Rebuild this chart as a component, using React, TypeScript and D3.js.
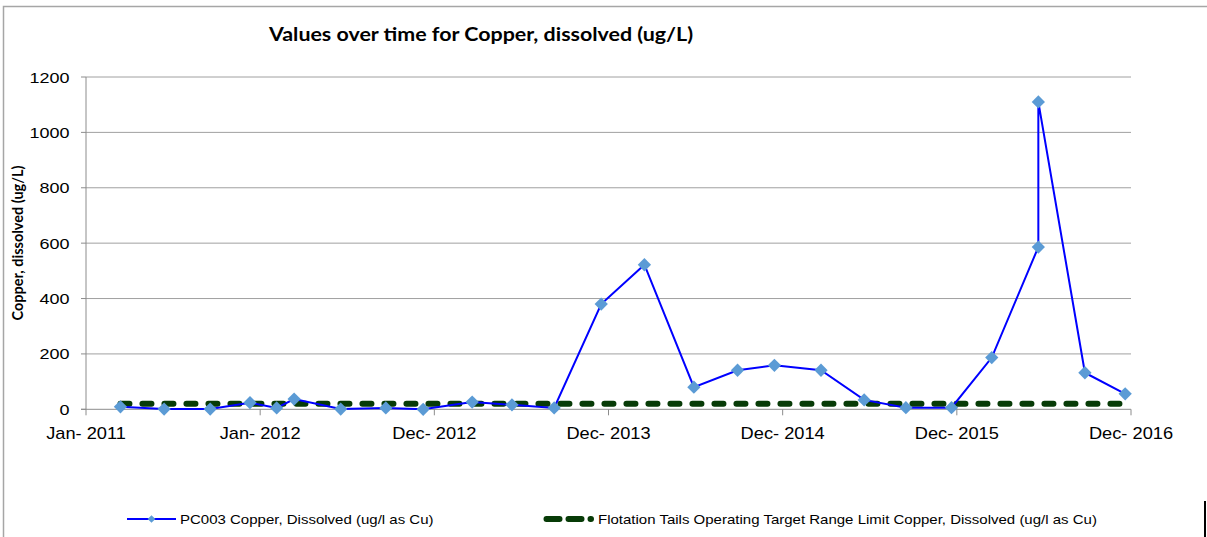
import { useEffect, useRef } from 'react';
import * as d3 from 'd3';

// sampling dates for station PC003
const sampleDates = [
  '2011-03-24', '2011-06-22', '2011-09-25', '2011-12-16', '2012-02-09', '2012-03-16',
  '2012-06-20', '2012-09-21', '2012-12-07', '2013-03-18', '2013-06-08', '2013-09-03',
  '2013-12-09', '2014-03-08', '2014-06-18', '2014-09-16', '2014-12-01', '2015-03-07',
  '2015-06-04', '2015-08-29', '2015-12-01', '2016-02-22', '2016-05-28', '2016-05-28',
  '2016-09-01', '2016-11-23',
];

// dissolved copper, ug/l
const copperValues = [
  9, 1, 1, 24, 5, 37,
  1, 5, 0, 26, 16, 5,
  380, 522, 80, 141, 159, 141,
  34, 6, 6, 187, 586, 1110,
  132, 56,
];

const targetLimit = 20;

// Excel date axis, major unit = 359 days
const xTickDates = ['2011-01-12', '2012-01-06', '2012-12-30', '2013-12-24', '2014-12-18', '2015-12-12', '2016-12-05'];
const yTicks = [0, 200, 400, 600, 800, 1000, 1200];

const titleText = 'Values over time for Copper, dissolved (ug/L)';
const yAxisTitle = 'Copper, dissolved (ug/L)';
const seriesNames = [
  'PC003 Copper, Dissolved (ug/l as Cu)',
  'Flotation Tails Operating Target Range Limit Copper, Dissolved (ug/l as Cu)',
];

const W = 1207;
const H = 537;

export default function App() {
  const svgRef = useRef<SVGSVGElement>(null);

  useEffect(() => {
    if (!svgRef.current) return;
    const svg = d3.select(svgRef.current);
    svg.selectAll('*').remove();

    const parse = d3.timeParse('%Y-%m-%d');
    const fmt = d3.timeFormat('%b- %Y');
    const ticks = xTickDates.map((d) => parse(d) as Date);
    const data = sampleDates.map((d, i) => ({ date: parse(d) as Date, value: copperValues[i] }));

    const margin = { left: 86, right: W - 1131, top: 77, bottom: H - 409.3 };
    const x = d3.scaleTime().domain([ticks[0], ticks[ticks.length - 1]]).range([margin.left, W - margin.right]);
    const y = d3.scaleLinear().domain([0, 1200]).range([H - margin.bottom, margin.top]);

    const sx = 1.14; // the original export is stretched horizontally
    const label = (
      g: d3.Selection<any, any, any, any>,
      text: string,
      px: number,
      py: number,
      opts: { size: number; anchor?: string; weight?: string; family?: string; rotate?: boolean; scale?: number }
    ) =>
      g.append('text')
        .attr('transform', opts.rotate
          ? `translate(${px},${py}) scale(${opts.scale ?? sx},1) rotate(-90)`
          : `translate(${px},${py}) scale(${opts.scale ?? sx},1)`)
        .attr('text-anchor', opts.anchor || 'start')
        .attr('font-family', opts.family || '"Liberation Sans", Arial, sans-serif')
        .attr('font-weight', opts.weight || 'normal')
        .attr('font-size', opts.size)
        .attr('fill', '#000')
        .text(text);

    // chart border
    svg.append('rect')
      .attr('x', 3.5).attr('y', 6.5).attr('width', W).attr('height', H)
      .attr('fill', '#fff').attr('stroke', '#a6a6a6').attr('stroke-width', 1.5);
    svg.append('rect')
      .attr('x', 1204).attr('y', 501).attr('width', 2).attr('height', 36).attr('fill', '#000');

    // gridlines
    svg.append('g').selectAll('line')
      .data(yTicks.filter((t) => t > 0))
      .enter().append('line')
      .attr('x1', margin.left).attr('x2', W - margin.right)
      .attr('y1', (d) => y(d)).attr('y2', (d) => y(d))
      .attr('stroke', '#a0a0a0').attr('stroke-width', 1);

    // axes
    const axis = svg.append('g').attr('stroke', '#8c8c8c').attr('stroke-width', 1);
    axis.append('line').attr('x1', margin.left).attr('x2', margin.left).attr('y1', y(1200)).attr('y2', y(0));
    axis.append('line').attr('x1', margin.left - 5).attr('x2', W - margin.right).attr('y1', y(0)).attr('y2', y(0));
    yTicks.forEach((t) => {
      axis.append('line').attr('x1', margin.left - 5).attr('x2', margin.left).attr('y1', y(t)).attr('y2', y(t));
    });
    ticks.forEach((t) => {
      axis.append('line').attr('x1', x(t)).attr('x2', x(t)).attr('y1', y(0)).attr('y2', y(0) + 6);
    });

    const labels = svg.append('g');
    yTicks.forEach((t) => label(labels, String(t), 69.5, y(t) + 5.5, { size: 15.5, anchor: 'end', scale: 1.16 }));
    ticks.forEach((t) => label(labels, fmt(t), x(t), 438.5, { size: 16, anchor: 'middle' }));

    // target limit (dashed)
    const extent = d3.extent(data, (d) => d.date) as [Date, Date];
    svg.append('line')
      .attr('x1', x(extent[0])).attr('x2', x(extent[1]))
      .attr('y1', y(targetLimit)).attr('y2', y(targetLimit))
      .attr('stroke', '#073b07').attr('stroke-width', 6)
      .attr('stroke-linecap', 'round').attr('stroke-dasharray', '9,13');

    // PC003 series
    const line = d3.line<{ date: Date; value: number }>()
      .x((d) => x(d.date))
      .y((d) => y(d.value));
    svg.append('path')
      .datum(data)
      .attr('fill', 'none').attr('stroke', '#0000ff').attr('stroke-width', 2)
      .attr('d', line);

    svg.append('g').selectAll('path')
      .data(data)
      .enter().append('path')
      .attr('transform', (d) => `translate(${x(d.date)},${y(d.value)}) rotate(45)`)
      .attr('d', d3.symbol().type(d3.symbolSquare).size(88))
      .attr('fill', '#5b9bd5');

    // titles
    label(svg, titleText, 481, 40.5, {
      size: 18, anchor: 'middle', weight: 'bold', family: 'Lato, "Open Sans", sans-serif', scale: 1.19,
    });
    label(svg, yAxisTitle, 23, 243, {
      size: 14.5, anchor: 'middle', weight: 'bold', family: 'Lato, "Open Sans", sans-serif', rotate: true, scale: 1,
    });

    // legend
    const ly = 519;
    const legend = svg.append('g');
    legend.append('line').attr('x1', 127).attr('x2', 176).attr('y1', ly).attr('y2', ly)
      .attr('stroke', '#0000ff').attr('stroke-width', 2);
    legend.append('path')
      .attr('transform', `translate(151.5,${ly}) rotate(45)`)
      .attr('d', d3.symbol().type(d3.symbolSquare).size(30))
      .attr('fill', '#5b9bd5');
    label(legend, seriesNames[0], 180, ly + 4.5, { size: 13, scale: 1.155 });

    legend.append('line').attr('x1', 546.5).attr('x2', 591).attr('y1', ly).attr('y2', ly)
      .attr('stroke', '#073b07').attr('stroke-width', 6)
      .attr('stroke-linecap', 'round').attr('stroke-dasharray', '13,9');
    label(legend, seriesNames[1], 598, ly + 4.5, { size: 13, scale: 1.155 });
  }, []);

  return (
    <div style={{ position: 'absolute', left: 0, top: 0 }}>
      <svg ref={svgRef} width={W} height={H} style={{ display: 'block' }} />
    </div>
  );
}
